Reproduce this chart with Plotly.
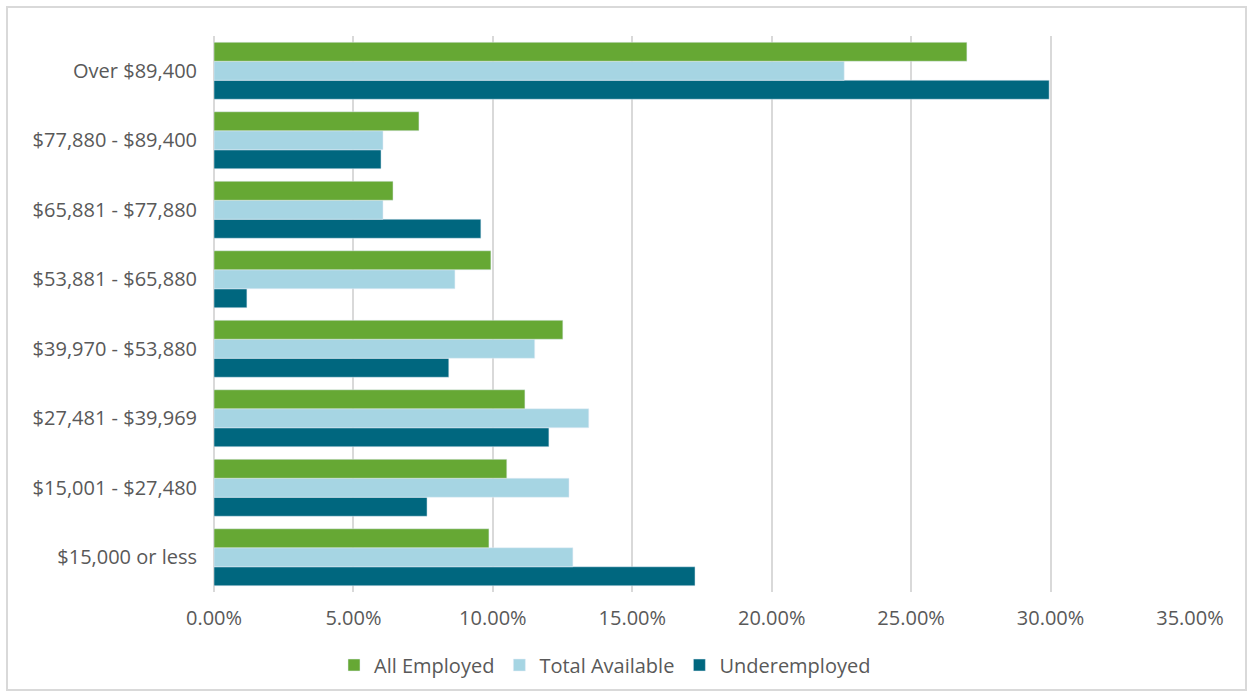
import plotly.graph_objects as go

# Household income brackets, listed bottom to top
categories = [
    "$15,000 or less",
    "$15,001 - $27,480",
    "$27,481 - $39,969",
    "$39,970 - $53,880",
    "$53,881 - $65,880",
    "$65,881 - $77,880",
    "$77,880 - $89,400",
    "Over $89,400",
]

# Share of each group (fractions), same order as categories
all_employed = [0.0986, 0.1050, 0.1115, 0.1251, 0.0993, 0.0642, 0.0735, 0.2700]
total_available = [0.1287, 0.1273, 0.1344, 0.1150, 0.0864, 0.0606, 0.0606, 0.2260]
underemployed = [0.1725, 0.0764, 0.1201, 0.0842, 0.0118, 0.0957, 0.0599, 0.2995]

x_ticks = [0, 0.05, 0.10, 0.15, 0.20, 0.25, 0.30, 0.35]

font_family = "Open Sans, Noto Sans, sans-serif"
text_color = "#595959"
grid_color = "#D9D9D9"

W, H = 1253, 695
L, R, T, B = 214, 63, 36, 103
plot_w = W - L - R
plot_h = H - T - B

fig = go.Figure()
# Added bottom-up so that All Employed sits on top of each group
fig.add_trace(go.Bar(y=categories, x=underemployed, name="Underemployed",
                     orientation="h", marker_color="#00677F"))
fig.add_trace(go.Bar(y=categories, x=total_available, name="Total Available",
                     orientation="h", marker_color="#A6D5E3"))
fig.add_trace(go.Bar(y=categories, x=all_employed, name="All Employed",
                     orientation="h", marker_color="#66A834"))

fig.update_layout(
    width=W, height=H,
    margin=dict(l=L, r=R, t=T, b=B, autoexpand=False),
    paper_bgcolor="white", plot_bgcolor="white",
    barmode="group", bargap=0.18, bargroupgap=0,
    font=dict(family=font_family, size=20, color=text_color),
    showlegend=True,
    legend=dict(orientation="h", traceorder="reversed",
                xref="paper", x=(605 - L) / plot_w, xanchor="center",
                yref="container", y=30 / H, yanchor="middle",
                bgcolor="rgba(0,0,0,0)",
                font=dict(size=20, color=text_color),
                itemwidth=30, tracegroupgap=0),
    xaxis=dict(range=[0, 0.35], tickvals=x_ticks, tickformat=".2%",
               showgrid=True, gridcolor=grid_color, gridwidth=2,
               zeroline=True, zerolinecolor=grid_color, zerolinewidth=2,
               showline=False, ticks="", ticklabelstandoff=12,
               tickfont=dict(size=20, color=text_color)),
    yaxis=dict(showgrid=False, zeroline=False, showline=False, ticks="",
               ticklabelstandoff=16,
               tickfont=dict(size=20, color=text_color)),
    shapes=[dict(type="rect", xref="paper", yref="paper",
                 x0=(7 - L) / plot_w, x1=(1246 - L) / plot_w,
                 y0=(H - B - 690) / plot_h, y1=(H - B - 7) / plot_h,
                 line=dict(color=grid_color, width=2),
                 fillcolor="rgba(0,0,0,0)", layer="below")],
)

fig.write_html("out.html")
